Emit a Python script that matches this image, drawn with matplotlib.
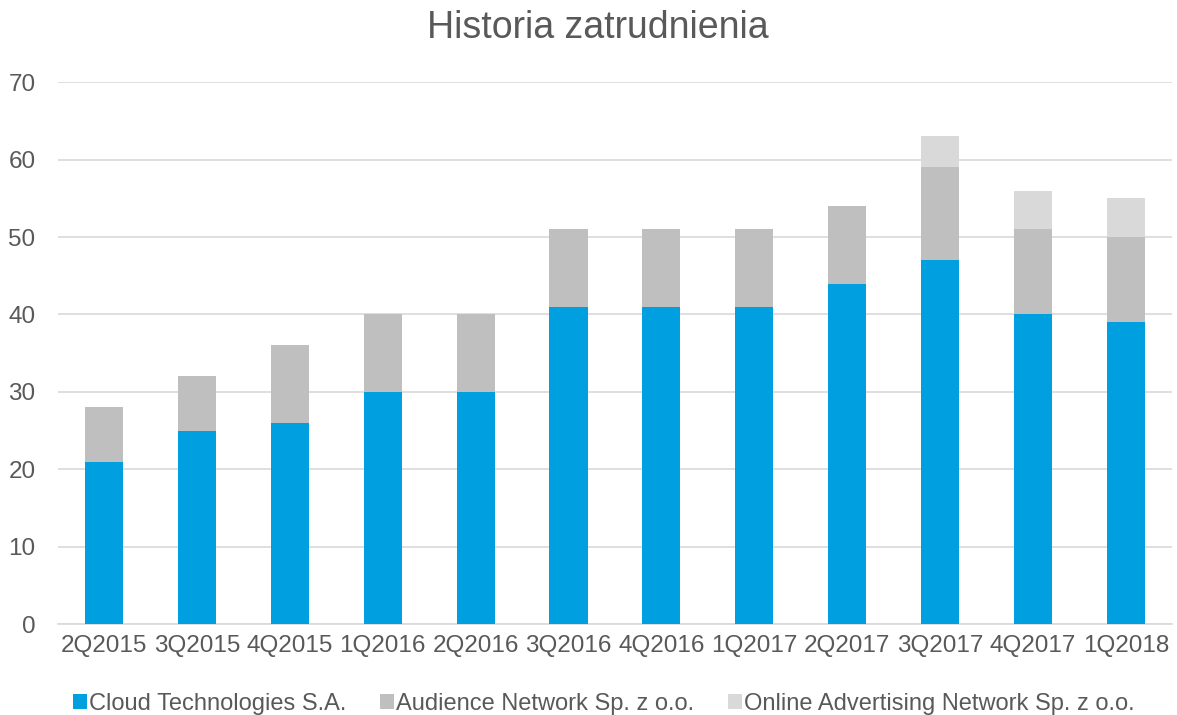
import numpy as np
import matplotlib.pyplot as plt

plt.rcParams['font.family'] = ['Liberation Sans', 'DejaVu Sans']

quarters = ['2Q2015', '3Q2015', '4Q2015', '1Q2016', '2Q2016', '3Q2016',
            '4Q2016', '1Q2017', '2Q2017', '3Q2017', '4Q2017', '1Q2018']
cloud = [21, 25, 26, 30, 30, 41, 41, 41, 44, 47, 40, 39]
audience = [7, 7, 10, 10, 10, 10, 10, 10, 10, 12, 11, 11]
online = [0, 0, 0, 0, 0, 0, 0, 0, 0, 4, 5, 5]
labels = ['Cloud Technologies S.A.', 'Audience Network Sp. z o.o.',
          'Online Advertising Network Sp. z o.o.']

text_col = '#595959'
fig = plt.figure(figsize=(11.77, 7.15), dpi=100)
ax = fig.add_axes([0.049, 0.127, 0.947, 0.758])

x = np.arange(len(quarters))
w = 0.41
cloud = np.array(cloud)
audience = np.array(audience)
ax.bar(x, cloud, w, color='#009FDF', label=labels[0], zorder=3)
ax.bar(x, audience, w, bottom=cloud, color='#BFBFBF', label=labels[1], zorder=3)
ax.bar(x, online, w, bottom=cloud + audience, color='#D9D9D9', label=labels[2], zorder=3)

ax.set_xlim(-0.5, len(quarters) - 0.5)
ax.set_ylim(0, 70)
ax.set_yticks(range(0, 71, 10))
ax.set_xticks(x)
ax.set_xticklabels(quarters)
ax.yaxis.grid(True, color='#D9D9D9', linewidth=1.2, zorder=0)
for s in ['top', 'right', 'left']:
    ax.spines[s].set_visible(False)
ax.spines['bottom'].set_color('#D9D9D9')
ax.spines['bottom'].set_linewidth(1.2)
ax.tick_params(length=0, labelsize=17.5, colors=text_col, pad=8)
ax.tick_params(axis='y', pad=16)

ax.set_title('Historia zatrudnienia', fontsize=27, color=text_col, pad=32, x=0.485)
ax.legend(loc='upper center', bbox_to_anchor=(0.49, -0.088), ncol=3, frameon=False,
          fontsize=17, labelcolor=text_col, handlelength=0.6, handleheight=0.6,
          handletextpad=0.1, columnspacing=1.4)

plt.savefig('out.png', dpi=100)
